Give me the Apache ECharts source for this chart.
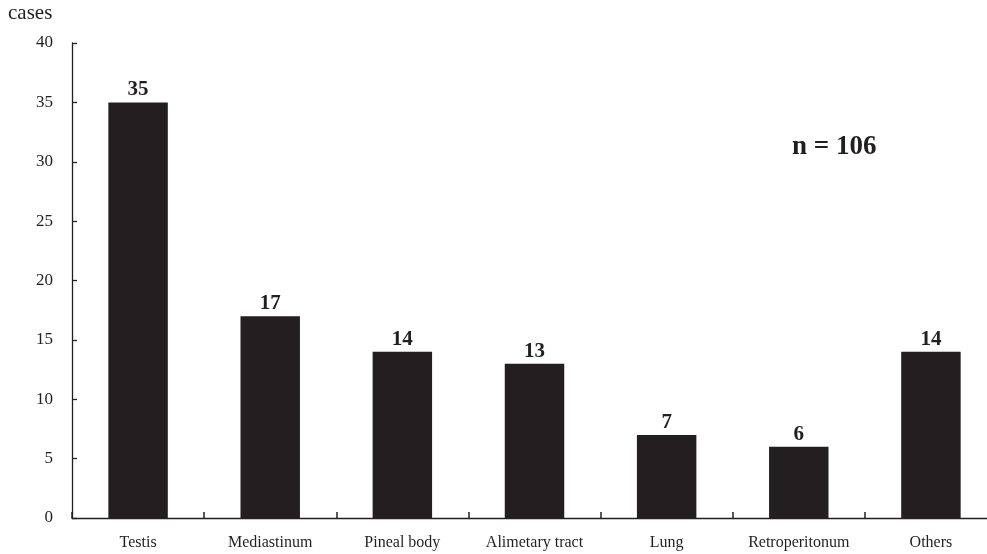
<!DOCTYPE html>
<html>
<head>
<meta charset="utf-8">
<script src="https://cdn.jsdelivr.net/npm/echarts@6/dist/echarts.min.js"></script>
<style>
  html, body { margin: 0; padding: 0; background: #fff; overflow: hidden; }
  /* the chart is a little wider than the page, so the x axis runs off the right edge */
  #chart { width: 1000px; height: 554px; }
</style>
</head>
<body>
<div id="chart"></div>
<script>
// Primary sites of germ cell tumours
const categories = ['Testis', 'Mediastinum', 'Pineal body', 'Alimetary tract', 'Lung', 'Retroperitonum', 'Others'];
const cases = [35, 17, 14, 13, 7, 6, 14];
const yTicks = [0, 5, 10, 15, 20, 25, 30, 35, 40];

const total = cases.reduce((a, b) => a + b, 0);
const serif = '"Liberation Serif", "Times New Roman", serif';
const ink = '#231f20';

const chart = echarts.init(document.getElementById('chart'));
chart.setOption({
  animation: false,
  backgroundColor: '#fff',
  grid: { left: 72, top: 43, bottom: 36, right: 3, containLabel: false },
  xAxis: {
    type: 'category',
    data: categories,
    axisLine: { lineStyle: { color: ink, width: 1.3 } },
    axisTick: {
      show: true,
      inside: true,
      alignWithLabel: false,
      interval: 0,
      length: 6,
      lineStyle: { color: ink, width: 1.5 }
    },
    axisLabel: { color: ink, fontFamily: serif, fontSize: 16, margin: 17, interval: 0 }
  },
  yAxis: {
    type: 'value',
    min: yTicks[0],
    max: yTicks[yTicks.length - 1],
    interval: yTicks[1] - yTicks[0],
    splitLine: { show: false },
    axisLine: { show: true, lineStyle: { color: ink, width: 1.3 } },
    axisTick: { show: true, inside: true, length: 5, lineStyle: { color: ink, width: 1.3 } },
    axisLabel: { color: ink, fontFamily: serif, fontSize: 17, margin: 19 }
  },
  series: [{
    type: 'bar',
    data: cases,
    barWidth: '45%',
    itemStyle: { color: ink },
    label: {
      show: true,
      position: 'top',
      distance: 2,
      color: ink,
      fontFamily: serif,
      fontWeight: 'bold',
      fontSize: 21
    }
  }],
  graphic: [
    {
      type: 'text',
      left: 8,
      top: 3,
      style: { text: 'cases', fill: ink, font: '21px ' + serif }
    },
    {
      type: 'text',
      left: 792,
      top: 134,
      style: { text: 'n = ' + total, fill: ink, font: 'bold 27px ' + serif }
    }
  ]
});
</script>
</body>
</html>
